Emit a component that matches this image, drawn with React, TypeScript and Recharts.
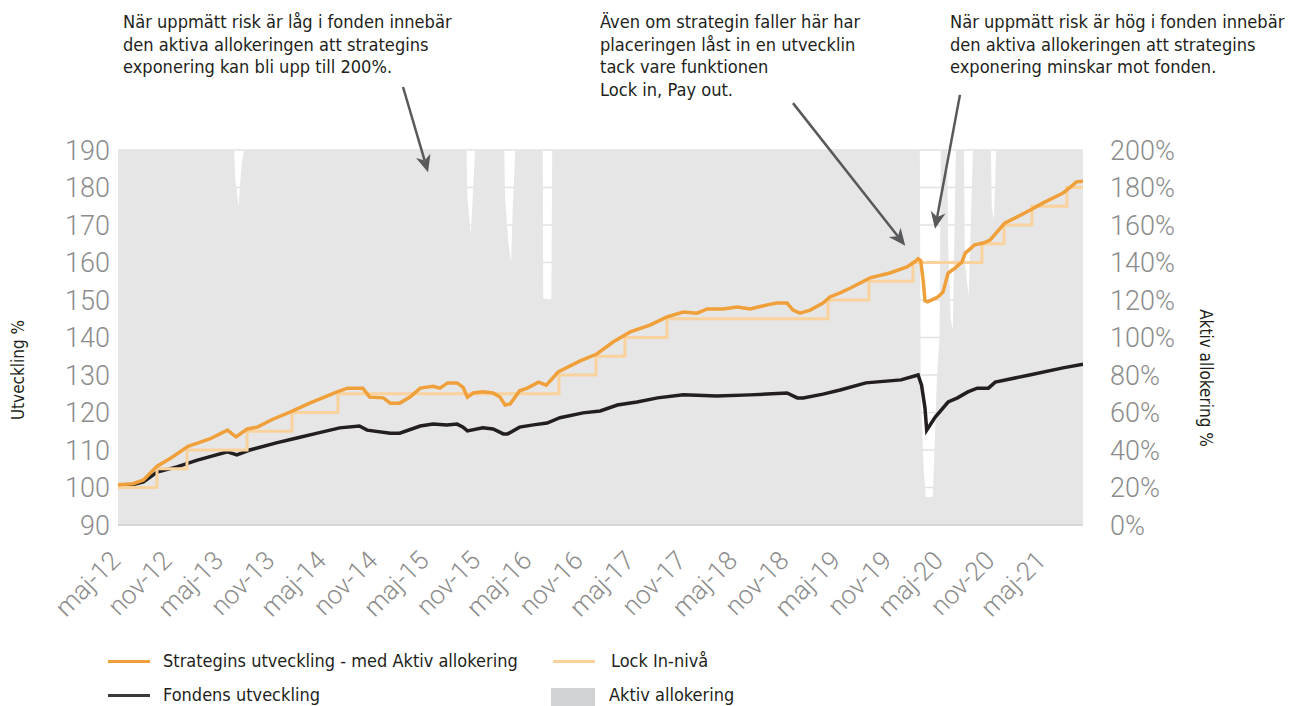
import React from "react";
import { ComposedChart, Line, Area, XAxis, YAxis, CartesianGrid, ReferenceLine } from "recharts";

// ---------- data (t = months since May 2012) ----------
const xTickMonths = [0, 6, 12, 18, 24, 30, 36, 42, 48, 54, 60, 66, 72, 78, 84, 90, 96, 102, 108];
const xTickLabels = [
  "maj-12", "nov-12", "maj-13", "nov-13", "maj-14", "nov-14", "maj-15", "nov-15", "maj-16", "nov-16",
  "maj-17", "nov-17", "maj-18", "nov-18", "maj-19", "nov-19", "maj-20", "nov-20", "maj-21",
];
const leftTicks = [90, 100, 110, 120, 130, 140, 150, 160, 170, 180, 190];
const rightTicks = [0, 20, 40, 60, 80, 100, 120, 140, 160, 180, 200];

const strategyPoints: [number, number][] = [
  [-0.47, 100.7], [1.3, 101], [2.5, 102], [4.1, 105.7], [5.8, 108], [7.7, 111], [8.9, 111.9], [10.3, 113],
  [12.3, 115.3], [13.3, 113.5], [14.6, 115.6], [15.8, 116.1], [17.6, 118.2], [19.6, 120.1], [21.9, 122.5],
  [25.1, 125.5], [26.3, 126.5], [28.1, 126.5], [28.9, 124.1], [30.5, 123.9], [31.3, 122.5], [32.4, 122.5],
  [33.6, 124.1], [34.8, 126.5], [36.3, 127], [37.1, 126.5], [38.0, 127.9], [39.1, 127.9], [39.8, 126.7],
  [40.3, 124.1], [41.0, 125.2], [42.1, 125.5], [43.3, 125.2], [44.1, 124.1], [44.7, 122], [45.3, 122.3],
  [46.4, 125.8], [47.3, 126.5], [48.6, 128.1], [49.5, 127.3], [50.9, 130.8], [53.4, 133.7], [55.4, 135.6],
  [57.3, 138.8], [59.3, 141.5], [61.6, 143.3], [63.6, 145.5], [65.5, 146.8], [67.1, 146.5], [68.3, 147.6],
  [70.1, 147.6], [71.8, 148.1], [73.3, 147.6], [75.3, 148.7], [76.4, 149.2], [77.6, 149.2], [78.3, 147.3],
  [79.1, 146.5], [80.3, 147.3], [81.8, 149.2], [82.6, 150.8], [83.8, 151.9], [85.0, 153.2], [87.3, 155.9],
  [89.6, 157.2], [91.6, 158.8], [92.5, 160.2], [92.9, 161.0], [93.2, 160.5], [93.5, 155], [93.7, 149.8],
  [94.0, 149.5], [95.2, 150.8], [95.8, 152.1], [96.4, 157.2], [97.2, 158.5], [98.0, 160.1], [98.4, 162.5],
  [99.5, 164.7], [100.5, 165.2], [101.3, 166], [103.0, 170.5], [104.4, 172.1], [106.0, 174], [107.5, 175.9],
  [109.8, 178.5], [111.4, 181.5], [112.14, 181.7],
];

const fundPoints: [number, number][] = [
  [-0.47, 100.4], [1.3, 100.8], [2.5, 101.5], [4.1, 104.1], [6.4, 105.5], [8.8, 107.3], [12.3, 109.5],
  [13.4, 108.7], [14.9, 110], [18.0, 111.9], [20.4, 113.2], [22.8, 114.5], [25.4, 115.9], [27.7, 116.4],
  [28.6, 115.3], [31.3, 114.5], [32.4, 114.5], [34.8, 116.4], [36.3, 116.9], [37.9, 116.7], [39.1, 116.9],
  [39.8, 116.1], [40.3, 115.1], [42.1, 115.9], [43.3, 115.6], [44.5, 114.3], [45.0, 114.3], [46.4, 116.1],
  [48.0, 116.7], [49.6, 117.2], [51.1, 118.6], [53.8, 119.9], [55.8, 120.4], [57.8, 122], [60.1, 122.8],
  [62.5, 123.9], [65.5, 124.7], [69.4, 124.4], [73.3, 124.7], [77.6, 125.2], [78.8, 123.9], [79.5, 123.9],
  [81.8, 124.9], [83.8, 126], [86.8, 127.9], [90.9, 128.7], [92.9, 130], [93.3, 127.3], [93.7, 121.2],
  [93.9, 115.3], [94.9, 118.8], [96.4, 122.8], [97.5, 123.9], [98.7, 125.5], [99.8, 126.5], [101.1, 126.5],
  [101.9, 128.1], [105.9, 130], [109.8, 131.9], [112.14, 132.9],
];

const lockPoints: [number, number][] = [
  [-0.47, 100], [4.08, 105], [7.58, 110], [14.59, 115], [19.84, 120], [25.2, 125], [50.99, 130], [55.31, 135],
  [58.69, 140], [63.59, 145], [82.38, 150], [87.16, 155], [92.3, 160], [100.35, 165], [102.92, 170],
  [106.18, 175], [110.27, 180], [112.14, 180],
];

const allocationPoints: [number, number][] = [
  [-0.47, 200], [13.1, 200], [13.2, 185], [13.6, 170], [13.9, 190], [14.2, 200],
  [40.2, 200], [40.3, 175], [40.7, 155], [41.2, 200],
  [44.6, 200], [44.7, 175], [45.1, 150], [45.4, 140], [45.6, 170], [45.9, 200],
  [49.1, 200], [49.15, 121], [50.1, 120], [50.2, 200],
  [93.1, 200], [93.2, 70], [93.55, 30], [93.8, 15], [94.6, 15], [94.85, 45], [95.1, 80], [95.4, 100], [95.55, 200],
  [96.3, 200], [96.4, 150], [96.7, 110], [96.95, 104], [97.3, 200],
  [98.25, 200], [98.35, 140], [98.8, 122], [99.3, 200],
  [101.4, 200], [101.5, 170], [101.75, 162], [102.0, 200],
  [112.14, 200],
];

// annotation arrows in data coordinates (t, left-axis value)
const arrowSegments: [number, number, number, number][] = [
  [32.79, 206.8, 35.71, 184.1],
  [78.3, 202.5, 91.4, 164.5],
  [97.78, 204.7, 94.87, 169.0],
];

const annotationBlocks: { left: number; lines: string[] }[] = [
  { left: 123, lines: ["När uppmätt risk är låg i fonden innebär", "den aktiva allokeringen att strategins", "exponering kan bli upp till 200%."] },
  { left: 600, lines: ["Även om strategin faller här har", "placeringen låst in en utvecklin", "tack vare funktionen", "Lock in, Pay out."] },
  { left: 950, lines: ["När uppmätt risk är hög i fonden innebär", "den aktiva allokeringen att strategins", "exponering minskar mot fonden."] },
];

// ---------- styling ----------
const W = 1290;
const H = 706;
const ORANGE = "#F0A03A";
const LIGHT = "#F9D29D";
const BLACK = "#231F20";
const GREY = "#E6E6E6";
const TICK = "#8C8C8C";
const COND = "'Liberation Sans Narrow', 'Arial Narrow', 'DejaVu Sans Condensed', sans-serif";
const TICKFONT = "Roboto, 'Noto Sans', sans-serif";

type Row = { t: number; strategy?: number; fund?: number; lock?: number; alloc?: number };

function buildRows(): Row[] {
  const map = new Map<number, Row>();
  const add = (pts: [number, number][], key: keyof Row) => {
    pts.forEach(([t, v]) => {
      const r: any = map.get(t) ?? { t };
      r[key] = v;
      map.set(t, r);
    });
  };
  add(allocationPoints, "alloc");
  add(lockPoints, "lock");
  add(fundPoints, "fund");
  add(strategyPoints, "strategy");
  return Array.from(map.values()).sort((a, b) => a.t - b.t);
}

const rows = buildRows();

const XTick = (props: any) => {
  const { x, y, payload } = props;
  const idx = xTickMonths.indexOf(payload.value);
  const label = idx >= 0 ? xTickLabels[idx] : "";
  const ty = y + 37;
  return (
    <text
      x={x}
      y={ty}
      transform={`rotate(-45, ${x}, ${ty})`}
      textAnchor="end"
      fill={TICK}
      fontSize={26}
      fontWeight={300}
      fontFamily={TICKFONT}
    >
      {label}
    </text>
  );
};

const arrowShape = (props: any) => {
  const { x1, y1, x2, y2 } = props;
  const ang = Math.atan2(y2 - y1, x2 - x1);
  const len = 17;
  const half = 7.5;
  const cos = Math.cos(ang);
  const sin = Math.sin(ang);
  const bx = x2 - len * cos;
  const by = y2 - len * sin;
  const nx = x2 - (len - 5) * cos;
  const ny = y2 - (len - 5) * sin;
  const p1 = `${bx + half * sin},${by - half * cos}`;
  const p2 = `${bx - half * sin},${by + half * cos}`;
  return (
    <g>
      <line x1={x1} y1={y1} x2={nx} y2={ny} stroke="#58595B" strokeWidth={2.5} />
      <polygon points={`${x2},${y2} ${p1} ${nx},${ny} ${p2}`} fill="#58595B" />
    </g>
  );
};

const legendText: React.CSSProperties = {
  position: "absolute",
  fontFamily: COND,
  fontSize: 18,
  lineHeight: "21px",
  color: "#231F20",
  whiteSpace: "nowrap",
};

export default function App() {
  return (
    <div style={{ position: "absolute", left: 0, top: 0, width: W, height: H, background: "#fff", overflow: "hidden" }}>
      <ComposedChart width={W} height={H} data={rows} margin={{ top: 150, right: 0, bottom: 0, left: 0 }}>
        <CartesianGrid vertical={false} stroke="#E2E2E2" strokeWidth={1.5} yAxisId="left" />
        <XAxis
          dataKey="t"
          type="number"
          domain={[-0.47, 112.14]}
          allowDataOverflow
          ticks={xTickMonths}
          interval={0}
          height={181}
          tick={<XTick />}
          tickLine={false}
          tickSize={0}
          tickMargin={0}
          axisLine={{ stroke: "#D6D6D6", strokeWidth: 2 }}
        />
        <YAxis
          yAxisId="left"
          orientation="left"
          domain={[90, 190]}
          ticks={leftTicks}
          interval={0}
          width={118}
          axisLine={false}
          tickLine={false}
          tickMargin={2}
          tick={{ fill: TICK, fontSize: 27, fontWeight: 300, fontFamily: TICKFONT }}
        />
        <YAxis
          yAxisId="right"
          orientation="right"
          domain={[0, 200]}
          ticks={rightTicks}
          interval={0}
          width={207}
          axisLine={false}
          tickLine={false}
          tickMargin={21}
          tickFormatter={(v: number) => `${v}%`}
          tick={{ fill: TICK, fontSize: 27, fontWeight: 300, fontFamily: TICKFONT, textAnchor: "start" }}
        />
        <Area
          yAxisId="right"
          dataKey="alloc"
          type="linear"
          fill={GREY}
          fillOpacity={1}
          stroke="none"
          connectNulls
          isAnimationActive={false}
          dot={false}
          activeDot={false}
        />
        <Line
          yAxisId="left"
          dataKey="fund"
          type="linear"
          stroke={BLACK}
          strokeWidth={3.5}
          dot={false}
          activeDot={false}
          connectNulls
          isAnimationActive={false}
        />
        <Line
          yAxisId="left"
          dataKey="lock"
          type="stepAfter"
          stroke={LIGHT}
          strokeWidth={3}
          dot={false}
          activeDot={false}
          connectNulls
          isAnimationActive={false}
        />
        <Line
          yAxisId="left"
          dataKey="strategy"
          type="linear"
          stroke={ORANGE}
          strokeWidth={3.5}
          dot={false}
          activeDot={false}
          connectNulls
          isAnimationActive={false}
        />
        {arrowSegments.map((s, i) => (
          <ReferenceLine
            key={i}
            yAxisId="left"
            ifOverflow="visible"
            segment={[{ x: s[0], y: s[1] }, { x: s[2], y: s[3] }]}
            shape={arrowShape}
          />
        ))}
      </ComposedChart>

      {/* annotations */}
      {annotationBlocks.map((b, i) => (
        <div
          key={i}
          style={{
            position: "absolute",
            left: b.left,
            top: 11,
            fontFamily: COND,
            fontSize: 18.1,
            lineHeight: "22.5px",
            color: "#231F20",
            whiteSpace: "nowrap",
          }}
        >
          {b.lines.map((l, j) => (
            <div key={j}>{l}</div>
          ))}
        </div>
      ))}

      {/* axis titles */}
      <div
        style={{
          position: "absolute",
          left: 18,
          top: 370,
          transform: "translate(-50%, -50%) rotate(-90deg)",
          fontFamily: COND,
          fontSize: 17,
          color: "#231F20",
          whiteSpace: "nowrap",
        }}
      >
        Utveckling %
      </div>
      <div
        style={{
          position: "absolute",
          left: 1206,
          top: 378,
          transform: "translate(-50%, -50%) rotate(90deg)",
          fontFamily: COND,
          fontSize: 17,
          color: "#231F20",
          whiteSpace: "nowrap",
        }}
      >
        Aktiv allokering %
      </div>

      {/* legend */}
      <div style={{ position: "absolute", left: 108, top: 660, width: 42, height: 3, background: ORANGE }} />
      <div style={{ ...legendText, left: 163, top: 650 }}>Strategins utveckling - med Aktiv allokering</div>
      <div style={{ position: "absolute", left: 553, top: 660, width: 42, height: 3, background: LIGHT }} />
      <div style={{ ...legendText, left: 611, top: 650 }}>Lock In-nivå</div>
      <div style={{ position: "absolute", left: 108, top: 694, width: 42, height: 3, background: "#3A3A3A" }} />
      <div style={{ ...legendText, left: 163, top: 684 }}>Fondens utveckling</div>
      <div style={{ position: "absolute", left: 551, top: 688, width: 44, height: 18, background: "#D1D2D3" }} />
      <div style={{ ...legendText, left: 609, top: 684 }}>Aktiv allokering</div>
    </div>
  );
}
